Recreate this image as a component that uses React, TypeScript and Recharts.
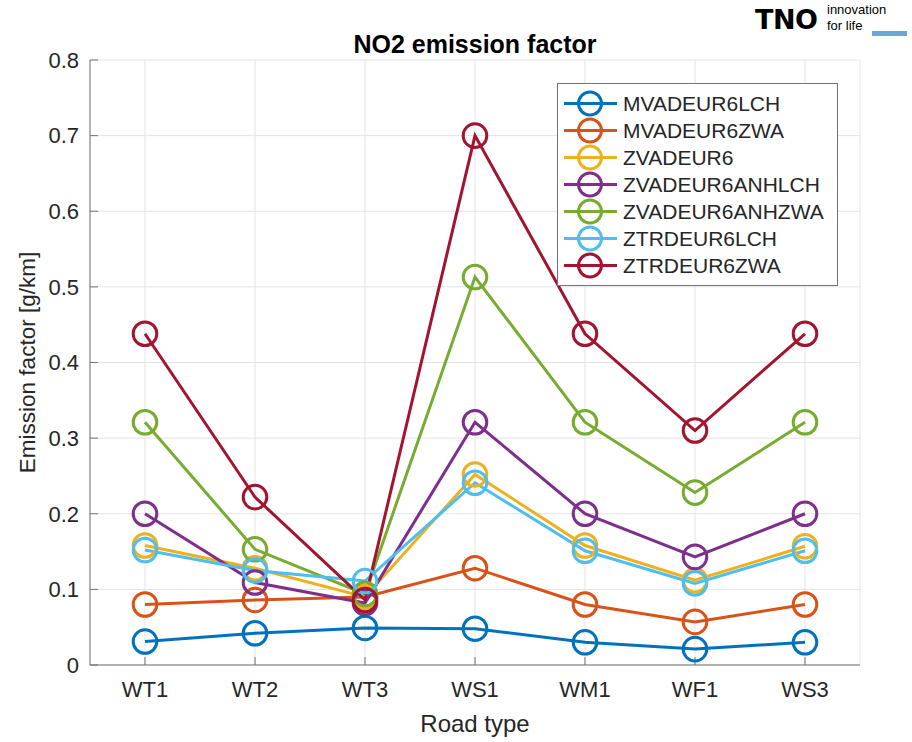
import React from "react";
import { LineChart, Line, XAxis, YAxis, CartesianGrid, Label } from "recharts";

const roadTypes = ["WT1", "WT2", "WT3", "WS1", "WM1", "WF1", "WS3"];
const yTicks = [0, 0.1, 0.2, 0.3, 0.4, 0.5, 0.6, 0.7, 0.8];
const xTicks = [1, 2, 3, 4, 5, 6, 7];

const mvadeur6lch = [0.031, 0.042, 0.049, 0.048, 0.03, 0.021, 0.03];
const mvadeur6zwa = [0.08, 0.086, 0.09, 0.128, 0.08, 0.057, 0.08];
const zvadeur6 = [0.158, 0.128, 0.09, 0.252, 0.158, 0.112, 0.157];
const zvadeur6anhlch = [0.2, 0.109, 0.082, 0.321, 0.2, 0.143, 0.2];
const zvadeur6anhzwa = [0.321, 0.153, 0.094, 0.513, 0.321, 0.228, 0.321];
const ztrdeur6lch = [0.152, 0.125, 0.111, 0.241, 0.151, 0.108, 0.151];
const ztrdeur6zwa = [0.438, 0.222, 0.086, 0.7, 0.438, 0.31, 0.438];

const series = [
  { key: "MVADEUR6LCH", values: mvadeur6lch, color: "#0072BD" },
  { key: "MVADEUR6ZWA", values: mvadeur6zwa, color: "#D95319" },
  { key: "ZVADEUR6", values: zvadeur6, color: "#EDB120" },
  { key: "ZVADEUR6ANHLCH", values: zvadeur6anhlch, color: "#7E2F8E" },
  { key: "ZVADEUR6ANHZWA", values: zvadeur6anhzwa, color: "#77AC30" },
  { key: "ZTRDEUR6LCH", values: ztrdeur6lch, color: "#4DBEEE" },
  { key: "ZTRDEUR6ZWA", values: ztrdeur6zwa, color: "#A2142F" },
];

const data = roadTypes.map((name, i) => {
  const row: Record<string, number | string> = { idx: i + 1, name };
  series.forEach((s) => {
    row[s.key] = s.values[i];
  });
  return row;
});

const FONT = "'Liberation Sans', Arial, Helvetica, sans-serif";
const AXIS = "#737373";
const TEXT = "#262626";

// matlab-style legend box, drawn as html on top of the lines
function MatlabLegend() {
  return (
    <div
      style={{
        position: "absolute",
        left: 557,
        top: 83,
        border: `1px solid ${AXIS}`,
        background: "#fff",
        width: 279,
        padding: "6px 0",
        fontFamily: FONT,
        fontSize: 21,
        color: TEXT,
      }}
    >
      {series.map((s) => (
        <div key={s.key} style={{ display: "flex", alignItems: "center", height: 27 }}>
          <svg width={65} height={27} style={{ flex: "none" }}>
            <line x1={6} x2={59} y1={13.5} y2={13.5} stroke={s.color} strokeWidth={3} />
            <circle cx={32} cy={13.5} r={11.5} fill="none" stroke={s.color} strokeWidth={3} />
          </svg>
          <span style={{ whiteSpace: "nowrap" }}>{s.key}</span>
        </div>
      ))}
    </div>
  );
}

export default function App() {
  return (
    <div style={{ position: "fixed", left: 0, top: 0, width: 912, height: 742, background: "#fff" }}>
      <LineChart
        width={912}
        height={742}
        data={data}
        margin={{ top: 60, right: 52, bottom: 0, left: 0 }}
        style={{ fontFamily: FONT }}
      >
        <CartesianGrid stroke="#e3e3e3" strokeWidth={1} />
        <XAxis
          dataKey="idx"
          type="number"
          domain={[0.5, 7.5]}
          ticks={xTicks}
          allowDataOverflow
          tickFormatter={(v) => roadTypes[v - 1] ?? ""}
          height={77}
          tickSize={-8}
          tickMargin={24}
          stroke={AXIS}
          tick={{ fill: TEXT, fontSize: 22 }}
        >
          <Label value="Road type" position="insideBottom" offset={10} fill={TEXT} fontSize={24} />
        </XAxis>
        <XAxis
          xAxisId="top"
          orientation="top"
          type="number"
          domain={[0.5, 7.5]}
          ticks={xTicks}
          allowDataOverflow
          height={0}
          tickSize={-8}
          tick={false}
          stroke={AXIS}
        />
        <YAxis
          type="number"
          domain={[0, 0.8]}
          ticks={yTicks}
          allowDataOverflow
          tickFormatter={(v) => (v === 0 ? "0" : v.toFixed(1))}
          width={90}
          tickSize={-8}
          tickMargin={19}
          stroke={AXIS}
          tick={{ fill: TEXT, fontSize: 22 }}
        >
          <Label
            value="Emission factor [g/km]"
            angle={-90}
            position="insideLeft"
            offset={27}
            fill={TEXT}
            fontSize={22.5}
            style={{ textAnchor: "middle" }}
          />
        </YAxis>
        <YAxis
          yAxisId="right"
          orientation="right"
          type="number"
          domain={[0, 0.8]}
          ticks={yTicks}
          allowDataOverflow
          width={0}
          tickSize={-8}
          tick={false}
          stroke={AXIS}
        />
        {series.map((s) => (
          <Line
            key={s.key}
            dataKey={s.key}
            type="linear"
            stroke={s.color}
            strokeWidth={3}
            dot={{ r: 11.8, fill: "none", stroke: s.color, strokeWidth: 3 }}
            activeDot={false}
            isAnimationActive={false}
          />
        ))}
      </LineChart>
      <MatlabLegend />
      <svg
        width={912}
        height={60}
        style={{ position: "absolute", left: 0, top: 0, pointerEvents: "none", fontFamily: FONT }}
      >
        <text x={475} y={53} textAnchor="middle" fontSize={25} fontWeight="bold" fill="#000">
          NO2 emission factor
        </text>
        <text
          x={755}
          y={29}
          fontFamily="'DejaVu Sans', sans-serif"
          fontWeight="bold"
          fontSize={27}
          letterSpacing={-0.5}
          fill="#000"
        >
          TNO
        </text>
        <text x={827} y={14} fontSize={13} fill="#000">
          innovation
        </text>
        <text x={827} y={30} fontSize={13} fill="#000">
          for life
        </text>
        <rect x={872} y={31} width={35} height={5} fill="#6da7d8" />
      </svg>
    </div>
  );
}
